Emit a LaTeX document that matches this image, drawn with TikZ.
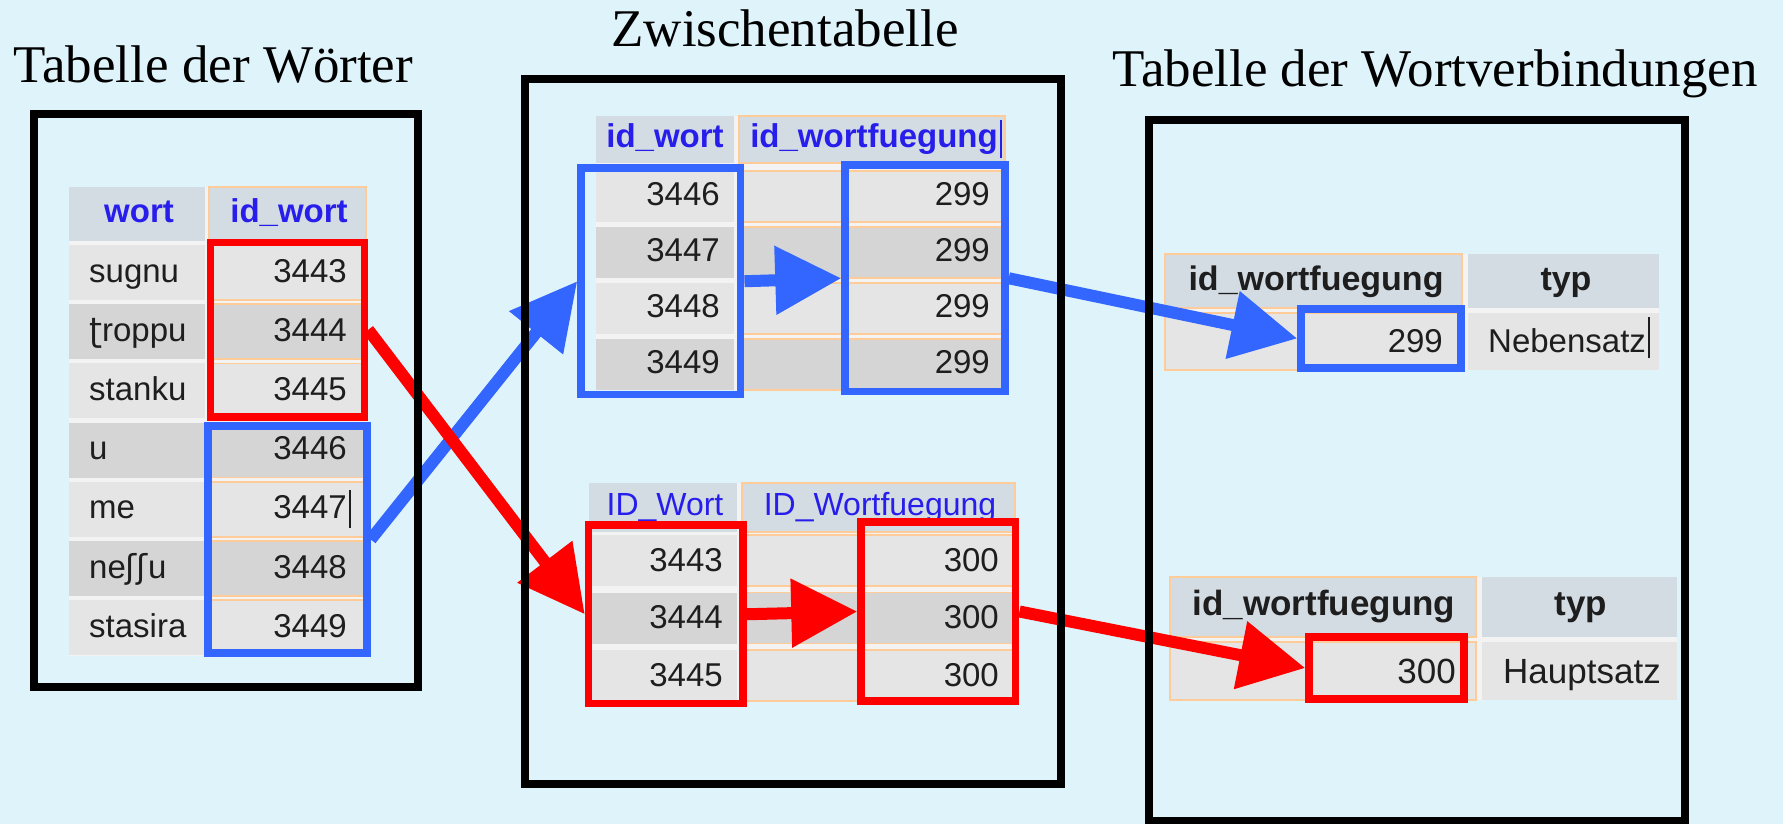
\documentclass[tikz,border=0pt]{standalone}
\usepackage{fontspec}
\setmainfont{Liberation Serif}
\newfontfamily\cellfont{Liberation Sans}
\newfontfamily\ipafont{DejaVu Sans}
\usetikzlibrary{arrows.meta}

\definecolor{bg}{RGB}{223,243,250}
\definecolor{thfill}{RGB}{211,220,227}
\definecolor{rowlight}{RGB}{229,229,229}
\definecolor{rowdark}{RGB}{213,213,213}
\definecolor{gapfill}{RGB}{243,243,243}
\definecolor{markline}{RGB}{255,204,153}
\definecolor{hdrblue}{RGB}{40,30,235}
\definecolor{celltext}{RGB}{30,30,30}
\definecolor{selred}{RGB}{255,0,0}
\definecolor{selblue}{RGB}{51,102,255}

% text cursor drawn after a cell entry, without taking up width
\newcommand\caret[2]{\rlap{\hspace{2pt}\rule[#1]{2pt}{#2}}}

% one row of the word table: index, top edge, word, id, fill style
\newcommand\wordrow[5]{%
  \path[#5] (69,#2) rectangle (205,{#2+55});
  \path[#5, hilite] (209,#2) rectangle (366,{#2+55});
  \node[celltxt, anchor=base west] (word#1) at (89,{#2+37}) {#3};
  \node[celltxt, anchor=base east] (wid#1) at (347,{#2+37}) {#4};
}

% one row of the link table (upper part): index, top edge, id, link id, fill style
\newcommand\linkrowA[5]{%
  \path[#5] (596,#2) rectangle (734,{#2+51});
  \path[#5, hilite] (739,#2) rectangle (1005,{#2+51});
  \node[celltxt, anchor=base east] (al#1) at (720,{#2+34}) {#3};
  \node[celltxt, anchor=base east] (ar#1) at (990,{#2+34}) {#4};
}

% one row of the link table (lower part)
\newcommand\linkrowB[5]{%
  \path[#5] (589,#2) rectangle (737,{#2+51});
  \path[#5, hilite] (742,#2) rectangle (1015,{#2+51});
  \node[celltxt, anchor=base east] (bl#1) at (723,{#2+36}) {#3};
  \node[celltxt, anchor=base east] (br#1) at (999,{#2+36}) {#4};
}

\begin{document}
\begin{tikzpicture}[x=1pt, y=-1pt,
  frame/.style={draw=black, line width=8pt},
  titletext/.style={font=\fontsize{53}{60}\selectfont, inner sep=0pt},
  lightcell/.style={fill=rowlight},
  darkcell/.style={fill=rowdark},
  headcell/.style={fill=thfill},
  hilite/.style={draw=markline, line width=1.5pt},
  celltxt/.style={font=\cellfont\fontsize{33}{40}\selectfont, text=celltext, inner sep=0pt},
  linktxt/.style={font=\cellfont\bfseries\fontsize{33}{40}\selectfont, text=hdrblue, inner sep=0pt, anchor=base},
  plainlink/.style={font=\cellfont\fontsize{32}{40}\selectfont, text=hdrblue, inner sep=0pt, anchor=base},
  headtxt/.style={font=\cellfont\bfseries\fontsize{34}{40}\selectfont, text=celltext, inner sep=0pt, anchor=base},
  selbox/.style={draw=#1, line width=7.5pt, inner sep=0pt, fill=none},
  link/.style={draw=#1, line width=12pt, -{Triangle[length=66pt,width=66pt]}},
]
\fill[bg] (0,0) rectangle (1783,824);
\useasboundingbox (0,0) rectangle (1783,824);

% ---------- word table ----------
\fill[gapfill] (69,187) rectangle (366,656);
\path[headcell] (69,187) rectangle (205,241);
\path[headcell, hilite] (209,187) rectangle (366,241);
\node[linktxt] (wh1) at (139,222) {wort};
\node[linktxt] (wh2) at (289,222) {id\_wort};
\wordrow{0}{245}{sugnu}{3443}{lightcell}
\wordrow{1}{304.2}{{\ipafont ʈ}roppu}{3444}{darkcell}
\wordrow{2}{363.4}{stanku}{3445}{lightcell}
\wordrow{3}{422.6}{u}{3446}{darkcell}
\wordrow{4}{481.8}{me}{3447\caret{-9pt}{38pt}}{lightcell}
\wordrow{5}{541}{ne{\ipafont ʃʃ}u}{3448}{darkcell}
\wordrow{6}{600.2}{stasira}{3449}{lightcell}

% ---------- link table, upper part ----------
\fill[gapfill] (596,116) rectangle (1005,390);
\path[headcell] (596,116) rectangle (734,163);
\path[headcell, hilite] (739,116) rectangle (1005,163);
\node[linktxt] (ah1) at (665,148) {id\_wort};
\node[linktxt] (ah2) at (874,148) {id\_wortfuegung\caret{-10pt}{38pt}};
\linkrowA{0}{171}{3446}{299}{lightcell}
\linkrowA{1}{227}{3447}{299}{darkcell}
\linkrowA{2}{283}{3448}{299}{lightcell}
\linkrowA{3}{339}{3449}{299}{darkcell}

% ---------- link table, lower part ----------
\fill[gapfill] (589,483) rectangle (1015,701);
\path[headcell] (589,483) rectangle (737,532);
\path[headcell, hilite] (742,483) rectangle (1015,532);
\node[plainlink] (bh1) at (665,515) {ID\_Wort};
\node[plainlink] (bh2) at (880,515) {ID\_Wortfuegung};
\linkrowB{0}{535}{3443}{300}{lightcell}
\linkrowB{1}{592.5}{3444}{300}{darkcell}
\linkrowB{2}{650}{3445}{300}{lightcell}

% ---------- word combinations: subordinate clause ----------
\fill[gapfill] (1165,254) rectangle (1659,370);
\path[headcell, hilite] (1165,254) rectangle (1462,308);
\path[headcell] (1468,254) rectangle (1659,308);
\path[lightcell, hilite] (1165,313) rectangle (1462,370);
\path[lightcell] (1468,313) rectangle (1659,370);
\node[headtxt] (ch1) at (1316,290) {id\_wortfuegung};
\node[headtxt] (ch2) at (1566,290) {typ};
\node[celltxt, anchor=base east] (cv1) at (1443,352) {299};
\node[celltxt, anchor=base west] (cv2) at (1488,352) {Nebensatz\caret{-6pt}{41pt}};

% ---------- word combinations: main clause ----------
\fill[gapfill] (1170,577) rectangle (1677,700);
\path[headcell, hilite] (1170,577) rectangle (1476,637);
\path[headcell] (1482,577) rectangle (1677,637);
\path[lightcell, hilite] (1170,642) rectangle (1476,700);
\path[lightcell] (1482,642) rectangle (1677,700);
\node[headtxt, font=\cellfont\bfseries\fontsize{35}{40}\selectfont] (dh1) at (1324,615) {id\_wortfuegung};
\node[headtxt, font=\cellfont\bfseries\fontsize{35}{40}\selectfont] (dh2) at (1581,615) {typ};
\node[celltxt, anchor=base east, font=\cellfont\fontsize{35}{40}\selectfont] (dv1) at (1456,683) {300};
\node[celltxt, anchor=base west, font=\cellfont\fontsize{35}{40}\selectfont] (dv2) at (1503,683) {Hauptsatz};

% ---------- selections ----------
\node[selbox=selred,  minimum width=154pt,   minimum height=174.5pt] (selW1) at (287.5,329.75) {};
\node[selbox=selblue, minimum width=159pt,   minimum height=227pt]   (selW2) at (287.5,539.5) {};
\node[selbox=selblue, minimum width=159.7pt, minimum height=226.5pt] (selA1) at (660.85,281.25) {};
\node[selbox=selblue, minimum width=160pt,   minimum height=226.5pt] (selA2) at (925,278.25) {};
\node[selbox=selred,  minimum width=154.5pt, minimum height=178.5pt] (selB1) at (665.75,614.25) {};
\node[selbox=selred,  minimum width=154.7pt, minimum height=179pt]   (selB2) at (938.35,611.5) {};
\node[selbox=selblue, minimum width=160pt,   minimum height=59pt]    (selC)  at (1381,338.5) {};
\node[selbox=selred,  minimum width=155pt,   minimum height=62pt]    (selD)  at (1386.5,668) {};

% ---------- references ----------
\draw[link=selblue] (selW2.east) -- (selA1.west);
\draw[link=selred]  (selW1.east) -- (selB1.west);
\draw[link=selblue] (selA1.east) -- (selA2.west);
\draw[link=selred]  (selB1.east) -- (selB2.west);
\draw[link=selblue] (selA2.east) -- (selC.west);
\draw[link=selred]  (selB2.east) -- (selD.west);

% ---------- table frames ----------
\draw[frame] (34,114) rectangle (418,687);
\draw[frame] (524.6,79) rectangle (1061,783.5);
\draw[frame] (1149,120) rectangle (1685,821);

% ---------- titles ----------
\node[titletext, anchor=base west] (titleW) at (13.4,82.7) {Tabelle der Wörter};
\node[titletext, anchor=base] (titleZ) at (785,46.7) {Zwischentabelle};
\node[titletext, anchor=base] (titleV) at (1435,87) {Tabelle der Wortverbindungen};
\end{tikzpicture}
\end{document}
